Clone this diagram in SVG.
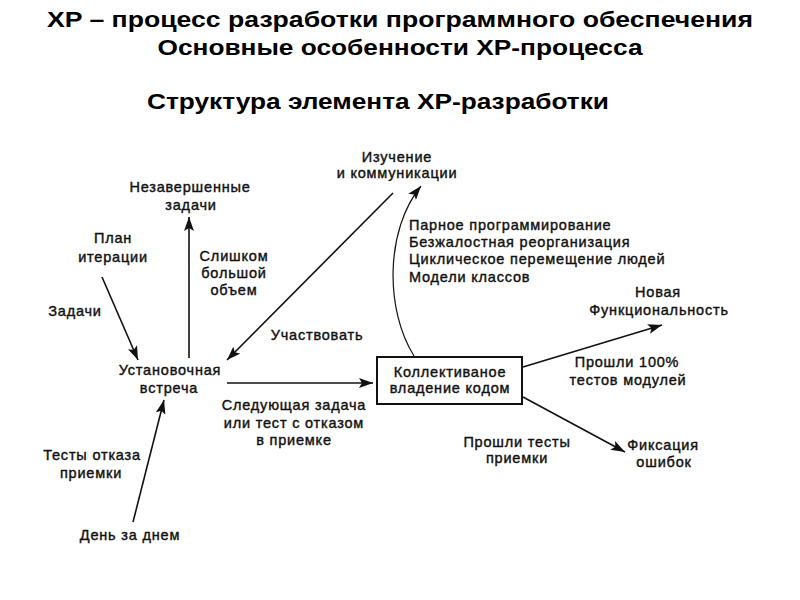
<svg xmlns="http://www.w3.org/2000/svg" width="800" height="600" viewBox="0 0 800 600">
<style>
.t{font-family:"Liberation Sans",Arial,sans-serif;font-weight:bold;font-size:22px;fill:#000;text-anchor:middle}
.l{font-family:"Liberation Sans",Arial,sans-serif;font-size:14.5px;letter-spacing:0.8px;fill:#111;text-anchor:middle;stroke:#111;stroke-width:0.4}
.ls{text-anchor:start}
.c{fill:none;stroke:#111;stroke-width:1.6}
</style>
<defs>
<marker id="ah" markerUnits="userSpaceOnUse" markerWidth="15" markerHeight="10" refX="14" refY="5" orient="auto">
<path d="M0,0 L14,5 L0,10 L3,5 z" fill="#111"/>
</marker>
</defs>
<rect width="800" height="600" fill="#fff"/>
<g id="titles">
<text class="t" x="400" y="27" textLength="706" lengthAdjust="spacingAndGlyphs">XP – процесс  разработки  программного  обеспечения</text>
<text class="t" x="400" y="55" textLength="485" lengthAdjust="spacingAndGlyphs">Основные  особенности  XP-процесса</text>
<text class="t" x="378" y="109" textLength="462" lengthAdjust="spacingAndGlyphs">Структура  элемента  XP-разработки</text>
</g>
<g id="connectors">
<line class="c" x1="102" y1="277" x2="138" y2="360" marker-end="url(#ah)"/>
<line class="c" x1="189" y1="358" x2="189" y2="217" marker-end="url(#ah)"/>
<line class="c" x1="393" y1="193" x2="227" y2="360" marker-end="url(#ah)"/>
<path class="c" d="M414,356 C385,310 385,230 421,186" marker-end="url(#ah)" style="stroke-width:1.2"/>
<line class="c" x1="227" y1="383" x2="373" y2="383" marker-end="url(#ah)"/>
<line class="c" x1="133" y1="522" x2="164" y2="400" marker-end="url(#ah)"/>
<line class="c" x1="523" y1="367" x2="662" y2="325" marker-end="url(#ah)"/>
<line class="c" x1="523" y1="397" x2="625" y2="452" marker-end="url(#ah)"/>
</g>
<g id="n-izuchenie"><text class="l" x="397" y="162">Изучение</text><text class="l" x="397" y="178">и коммуникации</text></g>
<g id="n-nezavershennye"><text class="l" x="190" y="192">Незавершенные</text><text class="l" x="191" y="210">задачи</text></g>
<g id="n-plan"><text class="l" x="113" y="243">План</text><text class="l" x="113" y="262">итерации</text></g>
<g id="l-slishkom"><text class="l" x="234" y="261">Слишком</text><text class="l" x="234" y="278">большой</text><text class="l" x="234" y="295">объем</text></g>
<g id="l-zadachi"><text class="l" x="75" y="316">Задачи</text></g>
<g id="l-uchastvovat"><text class="l" x="317" y="340">Участвовать</text></g>
<g id="n-ustanovochnaya"><text class="l" x="170" y="375">Установочная</text><text class="l" x="169" y="393">встреча</text></g>
<g id="n-kollektivnoe">
<rect x="377" y="357" width="145" height="47" fill="#fff" stroke="#111" stroke-width="2"/>
<text class="l" x="450" y="377">Коллективаное</text><text class="l" x="450" y="393">владение кодом</text>
</g>
<g id="l-praktiki">
<text class="l ls" x="409" y="230">Парное программирование</text>
<text class="l ls" x="409" y="247">Безжалостная реорганизация</text>
<text class="l ls" x="409" y="264">Циклическое перемещение людей</text>
<text class="l ls" x="409" y="282">Модели классов</text>
</g>
<g id="l-sleduyushchaya"><text class="l" x="294" y="410">Следующая задача</text><text class="l" x="294" y="428">или тест с отказом</text><text class="l" x="294" y="445">в приемке</text></g>
<g id="n-novaya"><text class="l" x="658" y="297">Новая</text><text class="l" x="659" y="315">Функциональность</text></g>
<g id="l-proshli100"><text class="l" x="627" y="367">Прошли 100%</text><text class="l" x="628" y="385">тестов модулей</text></g>
<g id="n-fiksaciya"><text class="l" x="663" y="450">Фиксация</text><text class="l" x="664" y="467">ошибок</text></g>
<g id="l-proshli-testy"><text class="l" x="517" y="447">Прошли тесты</text><text class="l" x="517" y="463">приемки</text></g>
<g id="l-testy-otkaza"><text class="l" x="92" y="460">Тесты отказа</text><text class="l" x="91" y="478">приемки</text></g>
<g id="n-den"><text class="l" x="130" y="540">День за днем</text></g>
</svg>
